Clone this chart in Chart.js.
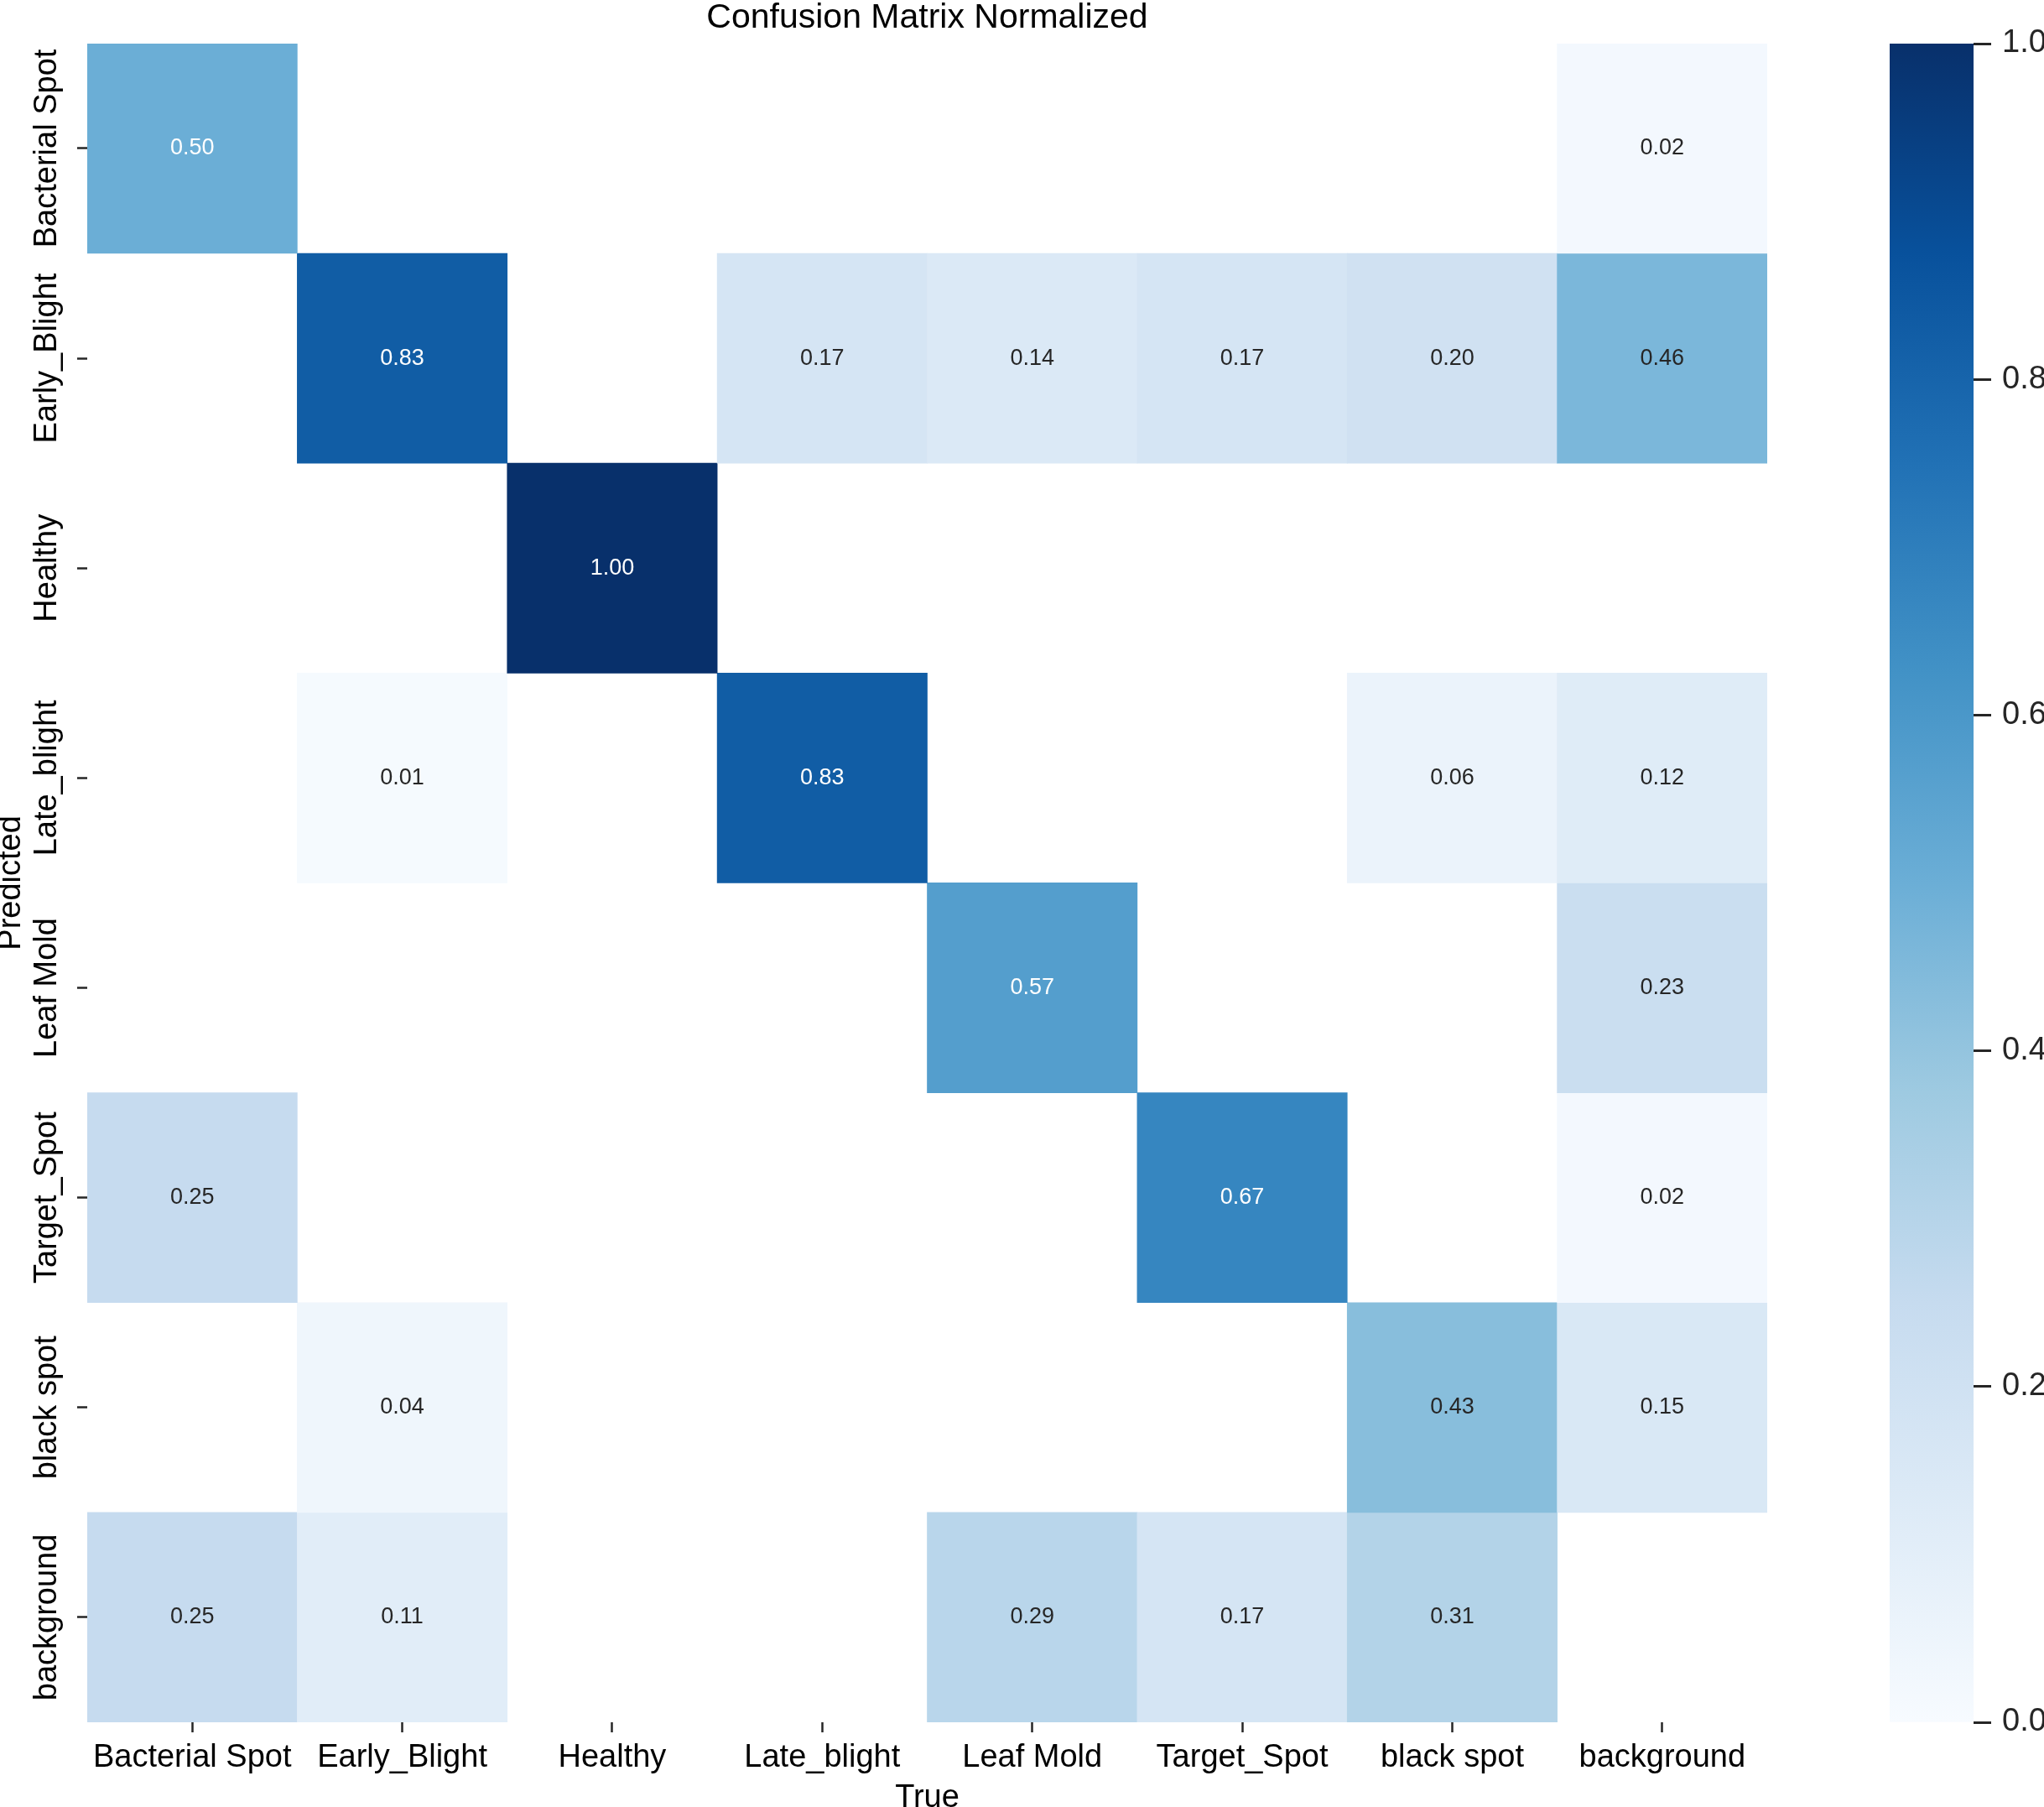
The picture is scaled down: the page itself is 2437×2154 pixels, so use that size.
<!DOCTYPE html>
<html>
<head>
<meta charset="utf-8">
<title>Confusion Matrix Normalized</title>
<script src="https://cdn.jsdelivr.net/npm/chart.js@4.4.1/dist/chart.umd.min.js"></script>
<style>
  html, body { margin: 0; padding: 0; background: #fff; overflow: hidden; }
  #wrap { position: relative; width: 2437px; height: 2154px; }
  #matrix { position: absolute; left: 0; top: 0; }
  #colorbar { position: absolute; left: 2200px; top: 0; }
</style>
</head>
<body>
<div id="wrap">
  <canvas id="matrix" width="2437" height="2154"></canvas>
  <canvas id="colorbar" width="237" height="2154"></canvas>
</div>
<script>
// categories (columns = true class, rows = predicted class)
const trueLabels = ["Bacterial Spot", "Early_Blight", "Healthy", "Late_blight", "Leaf Mold", "Target_Spot", "black spot", "background"];
const predLabels = ["Bacterial Spot", "Early_Blight", "Healthy", "Late_blight", "Leaf Mold", "Target_Spot", "black spot", "background"];

// one row per predicted class (0 = empty cell)
const rowBacterialSpot = [0.50, 0,    0,    0,    0,    0,    0,    0.02];
const rowEarlyBlight   = [0,    0.83, 0,    0.17, 0.14, 0.17, 0.20, 0.46];
const rowHealthy       = [0,    0,    1.00, 0,    0,    0,    0,    0];
const rowLateBlight    = [0,    0.01, 0,    0.83, 0,    0,    0.06, 0.12];
const rowLeafMold      = [0,    0,    0,    0,    0.57, 0,    0,    0.23];
const rowTargetSpot    = [0.25, 0,    0,    0,    0,    0.67, 0,    0.02];
const rowBlackSpot     = [0,    0.04, 0,    0,    0,    0,    0.43, 0.15];
const rowBackground    = [0.25, 0.11, 0,    0,    0.29, 0.17, 0.31, 0];

const matrix = [rowBacterialSpot, rowEarlyBlight, rowHealthy, rowLateBlight,
                rowLeafMold, rowTargetSpot, rowBlackSpot, rowBackground];

// colorbar ticks
const cbTicks = [0, 0.2, 0.4, 0.6, 0.8, 1.0];

const FONT = "'Liberation Sans', Arial, Helvetica, sans-serif";
const INK = "#262626";

// matplotlib "Blues"
const bluesStops = ["#f7fbff", "#deebf7", "#c6dbef", "#9ecae1", "#6baed6", "#4292c6", "#2171b5", "#08519c", "#08306b"];

const hexToRgb = h => [1, 3, 5].map(i => parseInt(h.substr(i, 2), 16));

const blues = v => {
    const t = Math.min(Math.max(v, 0), 1) * (bluesStops.length - 1);
    const i = Math.min(Math.floor(t), bluesStops.length - 2);
    const f = t - i;
    const a = hexToRgb(bluesStops[i]), b = hexToRgb(bluesStops[i + 1]);
    const c = a.map((x, k) => Math.round(x + (b[k] - x) * f));
    return `rgb(${c[0]}, ${c[1]}, ${c[2]})`;
};

// numbers inside the cells
const cellLabels = {
    id: "cellLabels",
    afterDatasetsDraw(chart) {
        const ctx = chart.ctx;
        ctx.save();
        ctx.font = `27px ${FONT}`;
        ctx.textAlign = "center";
        ctx.textBaseline = "middle";
        chart.data.datasets.forEach((ds, r) => {
            chart.getDatasetMeta(r).data.forEach((bar, c) => {
                const v = matrix[r][c];
                if (!(v > 0)) return;
                const p = bar.getProps(["x", "y", "base"], true);
                ctx.fillStyle = v >= 0.5 ? "#ffffff" : INK;
                ctx.fillText(v.toFixed(2), p.x, (p.y + p.base) / 2);
            });
        });
        ctx.restore();
    }
};

// rotated row names on the y axis
const rowLabels = {
    id: "rowLabels",
    afterDraw(chart) {
        const scale = chart.scales.y;
        const ctx = chart.ctx;
        scale.ticks.forEach((t, i) => {
            const py = scale.getPixelForValue(t.value);
            ctx.save();
            ctx.translate(scale.right - 47, py);
            ctx.rotate(-Math.PI / 2);
            ctx.font = `38px ${FONT}`;
            ctx.fillStyle = "#000";
            ctx.textAlign = "center";
            ctx.textBaseline = "middle";
            ctx.fillText(predLabels[i], 0, 0);
            ctx.restore();
        });
    }
};

const tickGrid = len => ({
    drawOnChartArea: false,
    drawTicks: true,
    tickLength: len,
    tickWidth: 2.5,
    tickColor: INK
});

new Chart(document.getElementById("matrix"), {
    type: "bar",
    data: {
        labels: trueLabels,
        datasets: predLabels.map((name, r) => ({
            label: name,
            data: matrix[r].map(v => v > 0 ? [r, r + 1] : null),
            backgroundColor: matrix[r].map(v => blues(v)),
            grouped: false,
            barPercentage: 1,
            categoryPercentage: 1,
            borderWidth: 0
        }))
    },
    options: {
        responsive: false,
        animation: false,
        devicePixelRatio: 1,
        layout: { padding: { left: 0, right: 330, top: 0, bottom: 0 } },
        plugins: {
            legend: { display: false },
            tooltip: { enabled: false },
            title: {
                display: true,
                fullSize: false,
                text: "Confusion Matrix Normalized",
                color: "#000",
                font: { family: FONT, size: 41, weight: "normal", lineHeight: 0.9 },
                padding: { top: 3, bottom: 12 }
            }
        },
        scales: {
            x: {
                type: "category",
                grid: { ...tickGrid(12), offset: false },
                border: { display: false },
                ticks: { color: "#000", padding: 8, autoSkip: false, maxRotation: 0, font: { family: FONT, size: 38 } },
                title: { display: true, text: "True", color: "#000", font: { family: FONT, size: 38, lineHeight: 0.6 }, padding: { top: 0, bottom: -1 } },
                afterFit: s => { s.height = 101; }
            },
            y: {
                type: "linear",
                min: 0,
                max: 8,
                reverse: true,
                afterBuildTicks: s => { s.ticks = predLabels.map((_, i) => ({ value: i + 0.5 })); },
                grid: tickGrid(12),
                border: { display: false },
                ticks: { display: false },
                title: { display: true, text: "Predicted", color: "#000", font: { family: FONT, size: 38, lineHeight: 0.6 }, padding: { top: 2, bottom: 0 } },
                afterFit: s => { s.width = 104; }
            }
        }
    },
    plugins: [cellLabels, rowLabels]
});

// colorbar: one bar from 0 to 1 filled with the colormap
const cbGradient = chart => {
    const { ctx, chartArea, scales } = chart;
    if (!chartArea) return blues(0.5);
    const g = ctx.createLinearGradient(0, scales.y.getPixelForValue(0), 0, scales.y.getPixelForValue(1));
    bluesStops.forEach((c, i) => g.addColorStop(i / (bluesStops.length - 1), c));
    return g;
};

new Chart(document.getElementById("colorbar"), {
    type: "bar",
    data: {
        labels: ["scale"],
        datasets: [{
            data: [[0, 1]],
            backgroundColor: ctx => cbGradient(ctx.chart),
            barPercentage: 1,
            categoryPercentage: 1,
            borderWidth: 0
        }]
    },
    options: {
        responsive: false,
        animation: false,
        devicePixelRatio: 1,
        layout: { padding: { left: 53, right: 0, top: 52, bottom: 101 } },
        plugins: { legend: { display: false }, tooltip: { enabled: false } },
        scales: {
            x: { display: false },
            y: {
                position: "right",
                min: 0,
                max: 1,
                afterBuildTicks: s => { s.ticks = cbTicks.map(v => ({ value: v })); },
                ticks: { callback: v => v.toFixed(1), color: INK, padding: 13, font: { family: FONT, size: 38 } },
                grid: { ...tickGrid(21), tickWidth: 3 },
                border: { display: false },
                afterFit: s => { s.width = 84; }
            }
        }
    }
});
</script>
</body>
</html>
